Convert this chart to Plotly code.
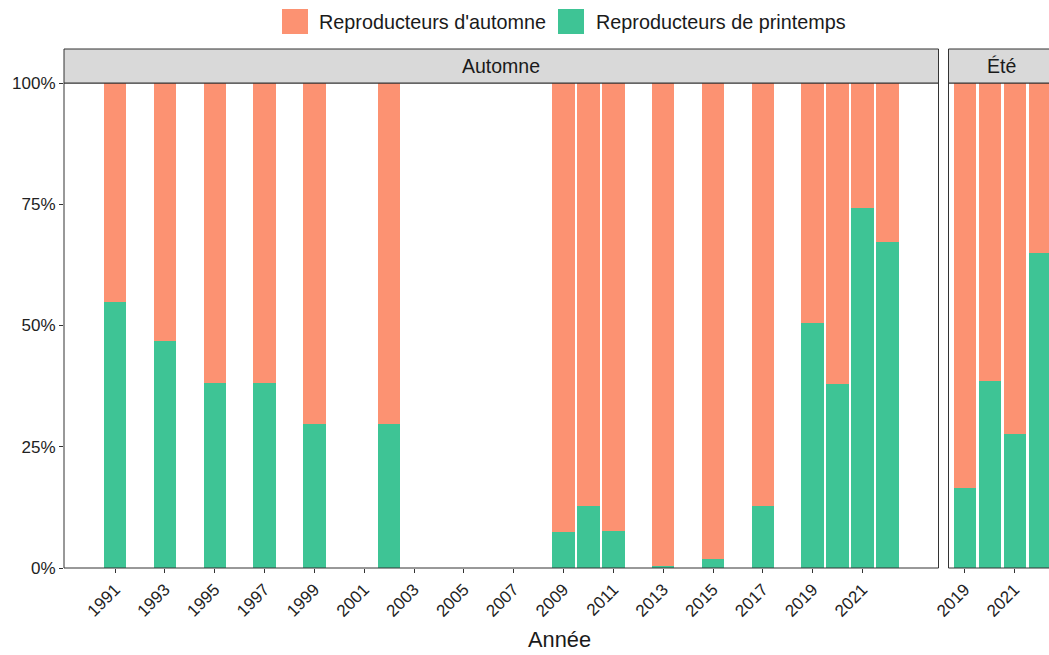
import plotly.graph_objects as go

# ---- data ----
years_automne = [1991, 1993, 1995, 1997, 1999, 2002, 2009, 2010, 2011, 2013, 2015, 2017, 2019, 2020, 2021, 2022]
printemps_automne = [54.9, 46.8, 38.2, 38.2, 29.6, 29.6, 7.5, 12.7, 7.7, 0.5, 1.8, 12.7, 50.5, 38.0, 74.3, 67.2]
automne_automne = [100 - v for v in printemps_automne]

years_ete = [2019, 2020, 2021, 2022]
printemps_ete = [16.5, 38.6, 27.6, 65.0]
automne_ete = [100 - v for v in printemps_ete]

ticks_automne = list(range(1991, 2022, 2))
ticks_ete = [2019, 2021]
y_ticks = [0, 25, 50, 75, 100]
y_ticktext = ["0%", "25%", "50%", "75%", "100%"]

series_names = ["Reproducteurs d'automne", "Reproducteurs de printemps"]
facet_names = ["Automne", "Été"]

COL_AUT = "#FC9272"
COL_PRI = "#3EC495"
FONT = "Liberation Sans, Arial, sans-serif"

W, H = 1049, 655
ML, MR, MT, MB = 64, 0, 83, 87
PW, PH = W - ML - MR, H - MT - MB


def px(x):
    return (x - ML) / PW


def py(y):
    return (H - MB - y) / PH


fig = go.Figure()
for xs, pri, aut, xa, ya in [
    (years_automne, printemps_automne, automne_automne, "x", "y"),
    (years_ete, printemps_ete, automne_ete, "x2", "y2"),
]:
    fig.add_trace(go.Bar(x=xs, y=pri, name=series_names[1], marker_color=COL_PRI,
                         marker_line_width=0, width=0.9, xaxis=xa, yaxis=ya, showlegend=False))
    fig.add_trace(go.Bar(x=xs, y=aut, name=series_names[0], marker_color=COL_AUT,
                         marker_line_width=0, width=0.9, xaxis=xa, yaxis=ya, showlegend=False))

d1_end = px(938.5)
d2_start = px(948.5)

axis_common = dict(showgrid=False, zeroline=False, showline=False, ticks="outside",
                   ticklen=4, tickwidth=1, tickcolor="#333333",
                   tickfont=dict(family=FONT, size=17, color="#222222"))

fig.update_layout(
    width=W, height=H,
    margin=dict(l=ML, r=MR, t=MT, b=MB),
    paper_bgcolor="white", plot_bgcolor="white",
    barmode="stack", bargap=0,
    showlegend=False,
    xaxis=dict(domain=[0, d1_end], range=[1988.95, 2024.05], tickvals=ticks_automne,
               tickangle=-45, anchor="y", **axis_common),
    xaxis2=dict(domain=[d2_start, 1], range=[2018.355, 2018.355 + (W - 948.5) / 24.93],
                tickvals=ticks_ete, tickangle=-45, anchor="y2", **axis_common),
    yaxis=dict(domain=[0, 1], range=[0, 100], tickvals=y_ticks, ticktext=y_ticktext,
               anchor="x", **axis_common),
    yaxis2=dict(domain=[0, 1], range=[0, 100], showticklabels=False, showgrid=False,
                zeroline=False, ticks="", anchor="x2", matches="y"),
)

shapes = []
strip_top = 1 + (83 - 49) / PH
for xd in ["x domain", "x2 domain"]:
    x1 = 1 if xd == "x domain" else 1.05
    yd = "y domain" if xd == "x domain" else "y2 domain"
    shapes.append(dict(type="rect", xref=xd, yref=yd, x0=0, x1=x1, y0=0, y1=1,
                       line=dict(color="#333333", width=1), fillcolor="rgba(0,0,0,0)", layer="above"))
    shapes.append(dict(type="rect", xref=xd, yref=yd, x0=0, x1=x1, y0=1, y1=strip_top,
                       line=dict(color="#333333", width=1), fillcolor="#D9D9D9", layer="above"))

# legend swatches
shapes.append(dict(type="rect", xref="paper", yref="paper", x0=px(282), x1=px(308), y0=py(34), y1=py(9),
                   line=dict(width=0), fillcolor=COL_AUT))
shapes.append(dict(type="rect", xref="paper", yref="paper", x0=px(558), x1=px(584), y0=py(34), y1=py(9),
                   line=dict(width=0), fillcolor=COL_PRI))

annotations = [
    dict(text=facet_names[0], xref="x domain", yref="paper", x=0.5, y=py(66), showarrow=False,
         xanchor="center", yanchor="middle", font=dict(family=FONT, size=19.5, color="#1A1A1A")),
    dict(text=facet_names[1], xref="paper", yref="paper", x=px((948.5 + 1055) / 2), y=py(66), showarrow=False,
         xanchor="center", yanchor="middle", font=dict(family=FONT, size=19.5, color="#1A1A1A")),
    dict(text=series_names[0], xref="paper", yref="paper", x=px(317), y=py(21.5), showarrow=False,
         xanchor="left", yanchor="middle", font=dict(family=FONT, size=19.8, color="#1A1A1A")),
    dict(text=series_names[1], xref="paper", yref="paper", x=px(594), y=py(21.5), showarrow=False,
         xanchor="left", yanchor="middle", font=dict(family=FONT, size=19.8, color="#1A1A1A")),
    dict(text="Année", xref="paper", yref="paper", x=px(559), y=py(639), showarrow=False,
         xanchor="center", yanchor="middle", font=dict(family=FONT, size=21.8, color="#1A1A1A")),
]

fig.update_layout(shapes=shapes, annotations=annotations)
fig.write_html("out.html", config={"displayModeBar": False},
               post_script="document.body.style.margin='0px';")
